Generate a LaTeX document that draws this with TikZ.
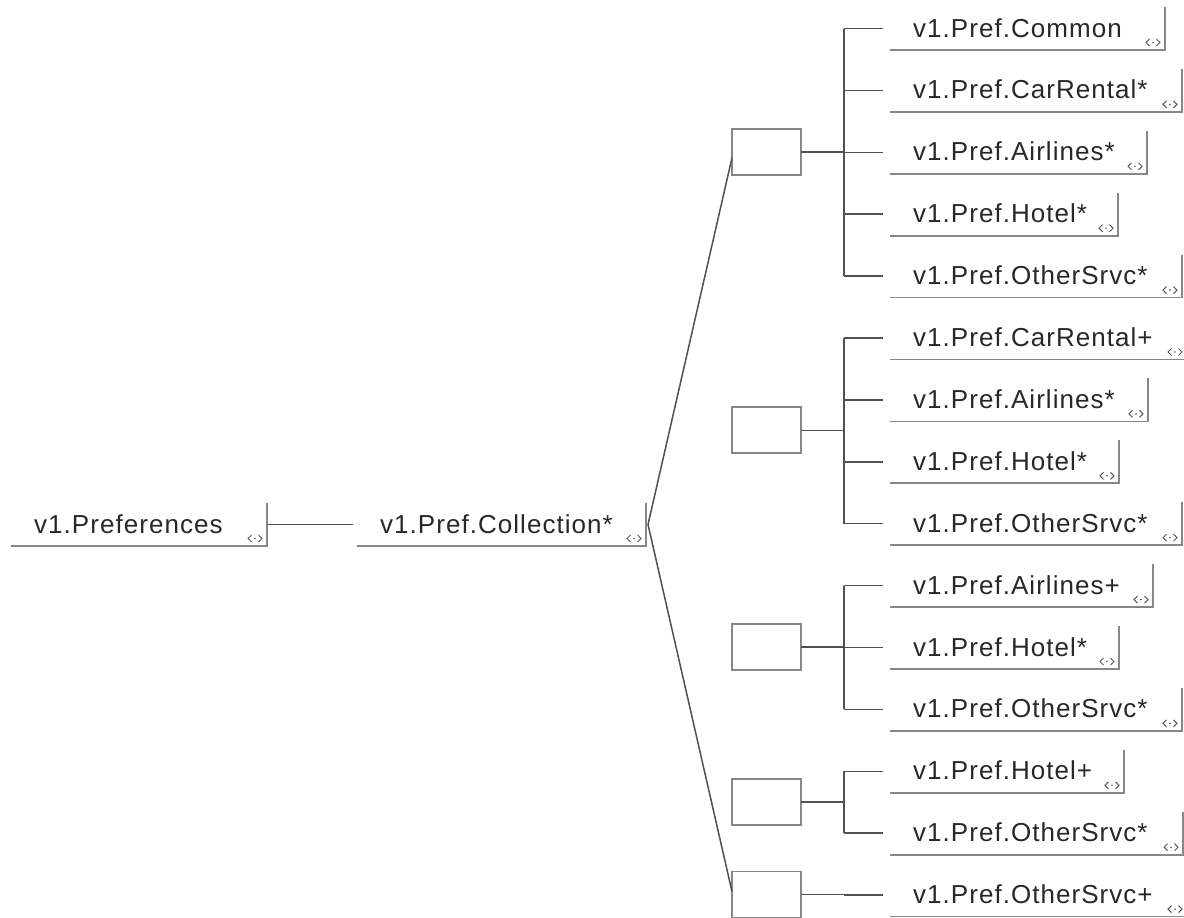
\documentclass[tikz,border=0pt]{standalone}
\usepackage{fontspec}
\setmainfont{Liberation Sans}[LetterSpace=4.0]
\definecolor{framegray}{RGB}{135,135,135}
\definecolor{conngray}{RGB}{80,80,80}
\definecolor{icongray}{RGB}{90,90,90}
\definecolor{textgray}{RGB}{40,40,40}
\begin{document}
\begin{tikzpicture}[x=1pt,y=-1pt,
  frame/.style={draw=framegray, line width=1.7pt},
  conn/.style={draw=conngray, line width=1.5pt},
  elem/.style={anchor=south west, minimum height=43pt, inner sep=0pt, outer sep=0pt},
  lbl/.style={anchor=base west, inner sep=0pt, text=textgray,
    font=\fontsize{26}{30}\selectfont},
  icon/.style={draw=icongray, line width=1pt},
  choicebox/.style={draw=framegray, line width=1.7pt,
    minimum width=69pt, minimum height=46pt, inner sep=0pt, outer sep=0pt}]
\useasboundingbox (0,0) rectangle (1184,918);

% element: name, left x, right x, underline y, label
\newcommand\element[5]{%
  \node[elem, minimum width={#3pt-#2pt}] (#1) at (#2,#4) {};
  \node[lbl] (#1-t) at ([xshift=23pt,yshift=13pt]#1.south west) {#5};
  \draw[frame] (#1.south west) -- (#1.south east) -- (#1.north east);
  % small expand marker
  \draw[icon] ([shift={(-15.5pt,11pt)}]#1.south east) -- ++(-3.5pt,-3.5pt) -- ++(3.5pt,-3.5pt)
              ([shift={(-8.5pt,11pt)}]#1.south east) -- ++(3.5pt,-3.5pt) -- ++(-3.5pt,-3.5pt);
  \fill[icongray] ([shift={(-12pt,7.5pt)}]#1.south east) circle (0.9pt);
}

% root and collection
\element{pref}{11}{267}{546}{v1.Preferences}
\element{coll}{357}{646}{546}{v1.Pref.Collection*}
\draw[conn, shorten >=4pt] (pref.east) -- (coll.west);

% children of the five sequences
\element{c0}{890}{1165}{50}{v1.Pref.Common}
\element{c1}{890}{1182}{111.9}{v1.Pref.CarRental*}
\element{c2}{890}{1147}{173.8}{v1.Pref.Airlines*}
\element{c3}{890}{1118}{235.7}{v1.Pref.Hotel*}
\element{c4}{890}{1182}{297.6}{v1.Pref.OtherSrvc*}
\element{c5}{890}{1187}{359.5}{v1.Pref.CarRental+}
\element{c6}{890}{1148}{421.4}{v1.Pref.Airlines*}
\element{c7}{890}{1119}{483.3}{v1.Pref.Hotel*}
\element{c8}{890}{1182}{545.2}{v1.Pref.OtherSrvc*}
\element{c9}{890}{1153}{607.1}{v1.Pref.Airlines+}
\element{c10}{890}{1119}{669}{v1.Pref.Hotel*}
\element{c11}{890}{1182}{730.9}{v1.Pref.OtherSrvc*}
\element{c12}{890}{1124}{792.8}{v1.Pref.Hotel+}
\element{c13}{890}{1183}{854.7}{v1.Pref.OtherSrvc*}
\element{c14}{890}{1187}{916.6}{v1.Pref.OtherSrvc+}

% sequence boxes
\node[choicebox] (b1) at (766.5,151.8) {};
\node[choicebox] (b2) at (766.5,430.3) {};
\node[choicebox] (b3) at (766.5,647) {};
\node[choicebox] (b4) at (766.5,801.75) {};
\node[choicebox] (b5) at (766.5,894.6) {};

% choice bracket
\coordinate (apex) at ([xshift=2pt]coll.east);
\draw[conn] ([yshift=-6pt]b1.west) -- (apex) -- ([yshift=3pt]b5.west);

% trunks
\coordinate (t1) at (844,151.8);
\coordinate (t2) at (844,430.3);
\coordinate (t3) at (844,647);
\coordinate (t4) at (844,801.75);
\coordinate (t5) at (844,894.6);
\foreach \b/\t in {b1/t1,b2/t2,b3/t3,b4/t4,b5/t5}
  \draw[conn] (\b.east) -- (\t);
\draw[conn] (t1 |- c0.west) -- (t1 |- c4.west);
\draw[conn] (t2 |- c5.west) -- (t2 |- c8.west);
\draw[conn] (t3 |- c9.west) -- (t3 |- c11.west);
\draw[conn] (t4 |- c12.west) -- (t4 |- c13.west);
\foreach \t/\c in {t1/c0,t1/c1,t1/c2,t1/c3,t1/c4,t2/c5,t2/c6,t2/c7,t2/c8,
                   t3/c9,t3/c10,t3/c11,t4/c12,t4/c13,t5/c14}
  \draw[conn, shorten >=7pt] (\t |- \c.west) -- (\c.west);
\end{tikzpicture}
\end{document}
